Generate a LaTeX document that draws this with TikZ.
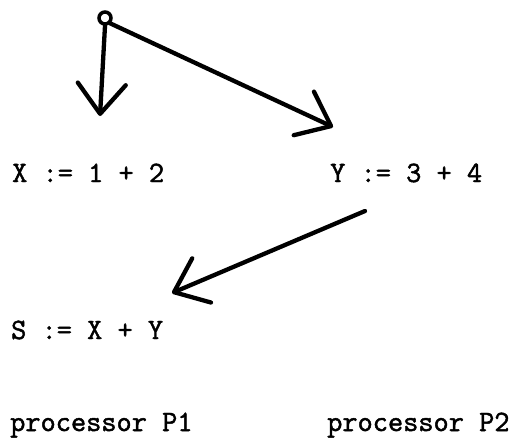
\documentclass[tikz,border=0pt]{standalone}
\usepackage{fontspec}
\setmonofont{Latin Modern Mono}[AutoFakeBold=1.6]
\usetikzlibrary{arrows.meta}
\begin{document}
\begin{tikzpicture}[x=1pt,y=-1pt,
  code/.style={font=\ttfamily\bfseries\fontsize{29.5}{33}\selectfont, inner sep=0pt, anchor=base west},
  flow/.style={line width=4.3pt, line cap=round, line join=round,
    -{Straight Barb[length=30pt,width=48pt,line width=4.3pt,round]}},
  origin/.style={circle, draw, line width=3.5pt, minimum size=12pt, inner sep=0pt}]
\useasboundingbox (0,0) rectangle (518,440);
\node[origin] (o) at (105,18) {};
\node[code] (x) at (12,182) {X := 1 + 2};
\node[code] (y) at (330,182) {Y := 3 + 4};
\node[code] (s) at (11,339) {S := X + Y};
\node[code] (p1) at (10,431) {processor P1};
\node[code] (p2) at (327,431) {processor P2};
\coordinate (xin) at (100,116);
\coordinate (yin) at (333,127);
\coordinate (yout) at (365,211);
\coordinate (sin) at (172,293);
\draw[flow] (o.south) -- (xin);
\draw[flow] (o.south east) -- (yin);
\draw[flow] (yout) -- (sin);
\end{tikzpicture}
\end{document}
